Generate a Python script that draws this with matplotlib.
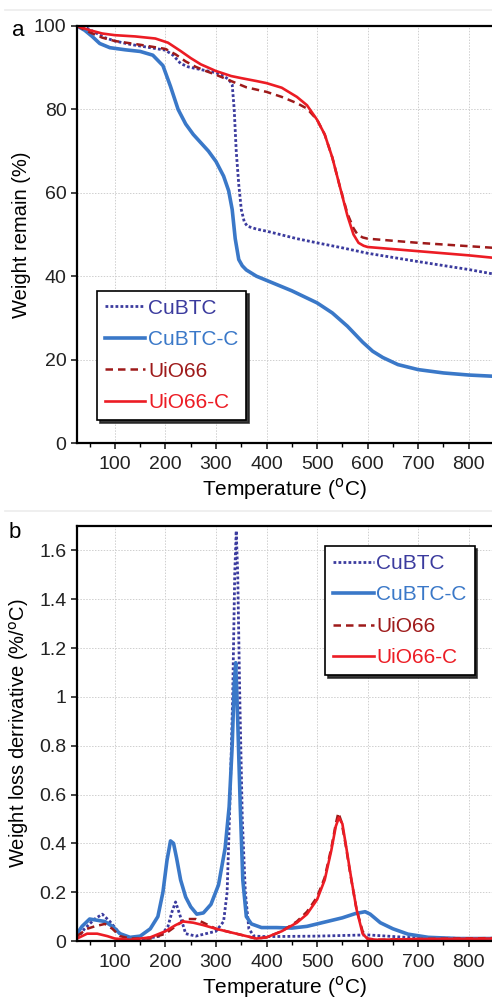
import matplotlib.pyplot as plt
import matplotlib.ticker as mticker
from matplotlib.lines import Line2D

plt.rcParams["font.family"] = ["Liberation Sans", "DejaVu Sans"]

# ---- panel a: TGA weight remain (%) ----
t_cubtc_a = [25, 40, 60, 80, 100, 130, 160, 200, 215, 230, 245, 260, 280, 300, 315, 325,
             332, 336, 340, 345, 350, 356, 362, 380, 400, 460, 500, 550, 600, 700, 800, 850]
w_cubtc_a = [100, 99.8, 98.5, 97.2, 96.4, 95.6, 95.0, 94.2, 93.0, 91.0, 90.2, 89.8, 89.3, 88.8,
             88.0, 87.2, 86.0, 80.0, 70.0, 62.0, 56.0, 53.0, 52.0, 51.3, 50.8, 49.0, 48.0,
             46.8, 45.5, 43.5, 41.6, 40.5]

t_cubtc_c_a = [25, 40, 55, 70, 90, 120, 150, 175, 195, 210, 225, 240, 255, 270, 285, 300,
               315, 325, 332, 338, 345, 352, 360, 380, 400, 450, 500, 530, 560, 590, 610,
               630, 660, 700, 750, 800, 850]
w_cubtc_c_a = [100, 99.0, 97.5, 95.8, 94.8, 94.3, 93.9, 93.0, 90.5, 85.5, 80.0, 76.5, 74.0,
               72.0, 70.0, 67.5, 64.0, 60.5, 56.0, 49.0, 44.0, 42.5, 41.5, 40.0, 39.0, 36.5,
               33.6, 31.2, 28.0, 24.2, 22.0, 20.5, 18.8, 17.6, 16.8, 16.3, 16.0]

t_uio_a = [25, 50, 75, 100, 150, 200, 220, 240, 260, 280, 300, 330, 360, 400, 430, 460, 480,
           500, 515, 530, 545, 560, 572, 580, 590, 600, 650, 700, 800, 850]
w_uio_a = [100, 98.5, 97.2, 96.4, 95.5, 94.5, 93.2, 91.5, 90.2, 89.2, 88.3, 86.8, 85.3, 84.2,
           83.0, 81.5, 80.2, 77.5, 74.0, 68.5, 61.5, 55.0, 51.5, 50.0, 49.3, 49.0, 48.5, 48.0,
           47.2, 46.8]

t_uio_c_a = [25, 50, 75, 100, 140, 180, 205, 230, 250, 270, 300, 330, 350, 380, 400, 430,
             460, 480, 500, 515, 530, 545, 560, 572, 582, 592, 600, 650, 700, 800, 850]
w_uio_c_a = [100, 99.0, 98.2, 97.8, 97.5, 97.0, 96.0, 94.0, 92.3, 90.8, 89.2, 88.0, 87.5,
             86.8, 86.3, 85.2, 83.0, 81.0, 77.5, 74.0, 68.5, 61.5, 54.5, 50.0, 48.0, 47.3,
             47.0, 46.5, 46.0, 45.0, 44.4]

# ---- panel b: DTG weight loss derivative (%/oC) ----
t_cubtc_b = [25, 40, 60, 75, 90, 110, 130, 160, 190, 205, 213, 220, 228, 240, 260, 280, 300,
             315, 322, 328, 333, 337, 340, 343, 347, 352, 358, 365, 375, 400, 500, 600, 700, 850]
d_cubtc_b = [0.01, 0.05, 0.09, 0.11, 0.08, 0.03, 0.01, 0.01, 0.02, 0.06, 0.12, 0.16, 0.11,
             0.03, 0.02, 0.03, 0.04, 0.08, 0.2, 0.6, 1.0, 1.5, 1.68, 1.5, 1.0, 0.5, 0.2, 0.05,
             0.02, 0.018, 0.02, 0.025, 0.012, 0.01]

t_cubtc_c_b = [25, 35, 50, 65, 80, 95, 110, 130, 150, 170, 185, 195, 203, 210, 216, 222, 230,
               240, 250, 262, 275, 290, 305, 318, 326, 332, 336, 339, 343, 348, 353, 360, 370,
               390, 420, 450, 480, 520, 550, 575, 595, 605, 625, 650, 680, 720, 780, 850]
d_cubtc_c_b = [0.03, 0.06, 0.09, 0.085, 0.08, 0.06, 0.03, 0.015, 0.02, 0.05, 0.1, 0.2, 0.33,
               0.41, 0.4, 0.34, 0.25, 0.18, 0.14, 0.11, 0.115, 0.15, 0.23, 0.38, 0.55, 0.8,
               1.05, 1.14, 0.9, 0.55, 0.25, 0.1, 0.07, 0.055, 0.055, 0.053, 0.06, 0.08, 0.095,
               0.112, 0.12, 0.11, 0.075, 0.05, 0.028, 0.015, 0.01, 0.01]

t_uio_b = [25, 45, 60, 80, 95, 110, 130, 170, 200, 220, 240, 260, 280, 300, 330, 360, 380,
           400, 430, 460, 480, 500, 515, 528, 537, 542, 548, 556, 566, 578, 590, 600, 620, 700,
           850]
d_uio_b = [0.02, 0.05, 0.06, 0.07, 0.05, 0.02, 0.01, 0.01, 0.03, 0.06, 0.09, 0.09, 0.07,
           0.05, 0.035, 0.02, 0.01, 0.015, 0.04, 0.08, 0.12, 0.18, 0.26, 0.38, 0.48, 0.525,
           0.49, 0.4, 0.27, 0.13, 0.04, 0.01, 0.005, 0.008, 0.012]

t_uio_c_b = [25, 45, 65, 85, 100, 130, 170, 200, 220, 235, 255, 275, 300, 330, 360, 380, 400,
             430, 460, 480, 500, 515, 528, 537, 543, 550, 558, 568, 578, 590, 600, 620, 700,
             850]
d_uio_c_b = [0.01, 0.03, 0.03, 0.02, 0.01, 0.005, 0.015, 0.04, 0.065, 0.08, 0.075, 0.065,
             0.05, 0.035, 0.02, 0.01, 0.015, 0.04, 0.075, 0.11, 0.17, 0.25, 0.37, 0.47, 0.505,
             0.48, 0.38, 0.25, 0.13, 0.03, 0.008, 0.005, 0.008, 0.01]

labels = ["CuBTC", "CuBTC-C", "UiO66", "UiO66-C"]
colors = ["#3b3b9e", "#3a78c8", "#9e1a1a", "#ec1c24"]
styles = [(0, (1, 0.8)), "-", (0, (3, 2)), "-"]
widths = [2.0, 2.6, 1.8, 1.9]

series_a = [(t_cubtc_a, w_cubtc_a), (t_cubtc_c_a, w_cubtc_c_a),
            (t_uio_a, w_uio_a), (t_uio_c_a, w_uio_c_a)]
series_b = [(t_cubtc_b, d_cubtc_b), (t_cubtc_c_b, d_cubtc_c_b),
            (t_uio_b, d_uio_b), (t_uio_c_b, d_uio_c_b)]

fig = plt.figure(figsize=(4.92, 10.05), dpi=100)
ax_a = fig.add_axes([77 / 492, 1 - 443 / 1005, 1 - 77 / 492, 417 / 1005])
ax_b = fig.add_axes([77 / 492, 1 - 941 / 1005, 1 - 77 / 492, 415 / 1005])


def style_axes(ax):
    for side in ["left", "bottom", "top"]:
        ax.spines[side].set_linewidth(1.6)
    ax.spines["right"].set_visible(False)
    ax.set_xlim(25, 846)
    ax.xaxis.set_major_locator(mticker.MultipleLocator(100))
    ax.xaxis.set_minor_locator(mticker.MultipleLocator(50))
    ax.tick_params(axis="both", which="major", direction="out", length=4, width=1.2,
                   labelsize=14, colors="#222222")
    ax.tick_params(axis="x", which="major", pad=5.5)
    ax.tick_params(axis="x", which="minor", direction="out", length=3, width=1.0)
    ax.grid(True, which="major", color="#cfcfcf", linestyle=(0, (1.5, 1.5)), linewidth=0.7)
    ax.set_axisbelow(True)
    ax.set_xlabel("Temperature ($^{\\mathrm{o}}$C)", fontsize=15, labelpad=2)
    ax.yaxis.set_label_coords(-0.111, 0.5)


def add_legend(ax, loc, anchor):
    leg = ax.legend(loc=loc, bbox_to_anchor=anchor, fontsize=15, frameon=True,
                    fancybox=False, shadow={"color": "#222222", "alpha": 0.9, "ox": 2, "oy": -2},
                    edgecolor="black", handlelength=1.95, handletextpad=0.12,
                    labelspacing=0.6, borderpad=0.38, borderaxespad=0)
    leg.get_frame().set_linewidth(1.2)
    for text, c in zip(leg.get_texts(), colors):
        text.set_color(c)


for (t, v), lab, c, ls, lw in zip(series_a, labels, colors, styles, widths):
    ax_a.plot(t, v, color=c, linestyle=ls, linewidth=lw, label=lab)
style_axes(ax_a)
ax_a.set_ylim(0, 100)
ax_a.yaxis.set_major_locator(mticker.MultipleLocator(20))
ax_a.set_ylabel("Weight remain (%)", fontsize=14.5)
add_legend(ax_a, "lower left", (0.048, 0.055))

for (t, v), lab, c, ls, lw in zip(series_b, labels, colors, styles, widths):
    ax_b.plot(t, v, color=c, linestyle=ls, linewidth=lw, label=lab)
style_axes(ax_b)
ax_b.set_ylim(0, 1.70)
ax_b.yaxis.set_major_locator(mticker.MultipleLocator(0.2))
ax_b.yaxis.set_major_formatter(mticker.FuncFormatter(lambda v, p: f"{v:.1f}".rstrip("0").rstrip(".") if v else "0"))
ax_b.set_ylabel("Weight loss derrivative (%/$^{\\mathrm{o}}$C)", fontsize=14.5)
add_legend(ax_b, "upper left", (0.598, 0.952))

fig.text(18 / 492, 1 - 30 / 1005, "a", fontsize=16, ha="center", va="center")
fig.text(15 / 492, 1 - 533 / 1005, "b", fontsize=16, ha="center", va="center")

for ypix in (10, 511):
    fig.add_artist(Line2D([0.01, 1.0], [1 - ypix / 1005] * 2, color="#ececec", linewidth=1.2))

fig.savefig("out.png", dpi=100)
